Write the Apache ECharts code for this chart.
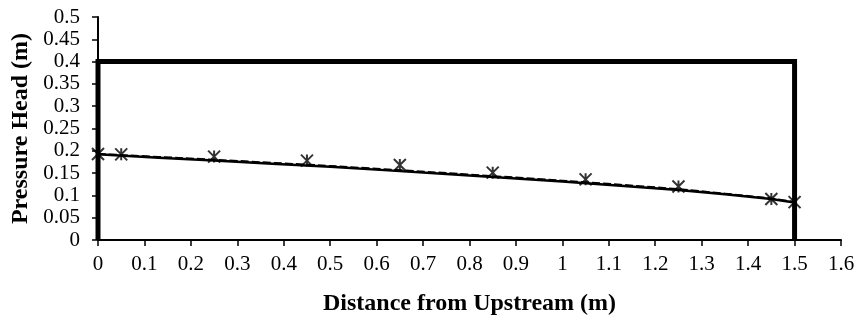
<!DOCTYPE html>
<html>
<head>
<meta charset="utf-8">
<script src="https://cdn.jsdelivr.net/npm/echarts@6/dist/echarts.min.js"></script>
<style>
  html, body { margin: 0; padding: 0; background: #fff; }
  #main { width: 856px; height: 316px; }
</style>
</head>
<body>
<div id="main"></div>
<script>
// boundary of the flow domain
const boxX = [0, 0, 1.5, 1.5];
const boxY = [0, 0.4, 0.4, 0];

// calculated pressure head (solid and dashed)
const lineX = [0, 0.25, 0.5, 0.75, 1.0, 1.25, 1.45, 1.5];
const solidY = [0.192, 0.178, 0.164, 0.148, 0.131, 0.112, 0.092, 0.084];
const dashY = [0.193, 0.180, 0.166, 0.150, 0.133, 0.114, 0.093, 0.085];

// measured points
const obsX = [0, 0.05, 0.25, 0.45, 0.65, 0.85, 1.05, 1.25, 1.45, 1.5];
const obsY = [0.193, 0.192, 0.187, 0.178, 0.168, 0.151, 0.136, 0.120, 0.092, 0.085];

const pairs = (xs, ys) => xs.map((x, i) => [x, ys[i]]);

const chart = echarts.init(document.getElementById("main"));
const font = "'Liberation Serif', 'Times New Roman', serif";
const star = "path://M0,0L10,10M10,0L0,10M5,0L5,10";

chart.setOption({
  animation: false,
  grid: { left: 98, right: 15, top: 17, bottom: 76, containLabel: false, outerBoundsMode: "none" },
  xAxis: {
    type: "value",
    min: 0, max: 1.6, interval: 0.1,
    name: "Distance from Upstream (m)",
    nameLocation: "middle",
    nameGap: 52,
    nameTextStyle: { fontFamily: font, fontSize: 24, fontWeight: "bold", color: "#000" },
    axisLine: { lineStyle: { color: "#000", width: 2 } },
    axisTick: { show: true, length: 6, lineStyle: { color: "#000", width: 1.5 } },
    axisLabel: { fontFamily: font, fontSize: 21, color: "#000", margin: 14,
      formatter: v => String(Math.round(v * 10) / 10) },
    splitLine: { show: false }
  },
  yAxis: {
    type: "value",
    min: 0, max: 0.5, interval: 0.05,
    name: "Pressure Head (m)",
    nameLocation: "middle",
    nameGap: 64,
    nameTextStyle: { fontFamily: font, fontSize: 24, fontWeight: "bold", color: "#000" },
    axisLine: { show: true, lineStyle: { color: "#000", width: 2 } },
    axisTick: { show: true, length: 6, lineStyle: { color: "#000", width: 1.5 } },
    axisLabel: { fontFamily: font, fontSize: 21, color: "#000", margin: 18,
      formatter: v => String(Math.round(v * 100) / 100) },
    splitLine: { show: false }
  },
  series: [
    {
      type: "line",
      data: pairs(boxX, boxY),
      symbol: "none",
      lineStyle: { color: "#000", width: 5, join: "miter" },
      z: 3
    },
    {
      type: "line",
      data: pairs(lineX, dashY),
      symbol: "none",
      smooth: 0.2,
      lineStyle: { color: "#000", width: 2, type: [8, 3] },
      z: 4
    },
    {
      type: "line",
      data: pairs(lineX, solidY),
      symbol: "none",
      smooth: 0.2,
      lineStyle: { color: "#000", width: 2.5 },
      z: 4
    },
    {
      type: "scatter",
      data: pairs(obsX, obsY),
      symbol: star,
      symbolSize: 12,
      itemStyle: { color: "none", borderColor: "#000", borderWidth: 2 },
      z: 5
    }
  ]
});
</script>
</body>
</html>
